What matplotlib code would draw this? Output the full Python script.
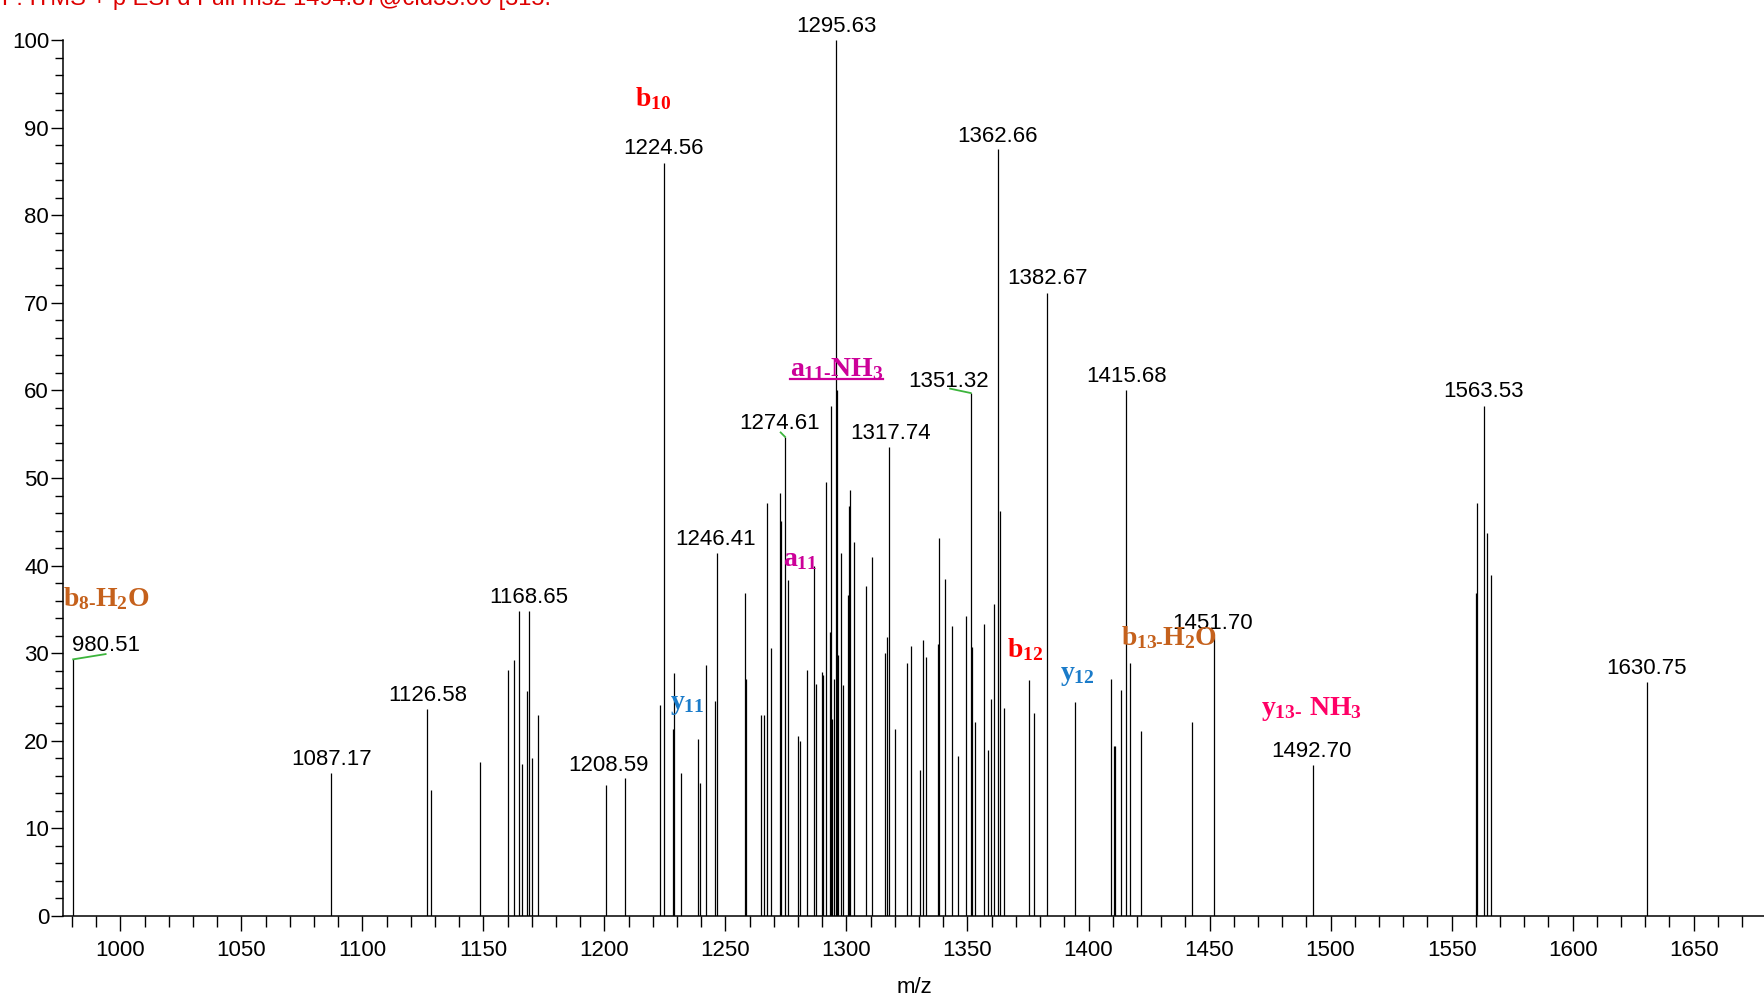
import matplotlib
matplotlib.use('Agg')
import matplotlib.pyplot as plt
from matplotlib import font_manager as fm
from matplotlib.ticker import MultipleLocator


def pick(fams):
    for f in fams:
        try:
            fm.findfont(fm.FontProperties(family=f), fallback_to_default=False)
            return f
        except Exception:
            pass
    return 'DejaVu Sans'


SANS = pick(['Liberation Sans Narrow', 'Arial Narrow', 'Liberation Sans', 'Arial'])
NARROW = 'Narrow' in SANS
FS = 19 if NARROW else 16
TFS = 18 if NARROW else 16

plt.rcParams['font.family'] = [SANS, 'DejaVu Sans']
plt.rcParams['mathtext.fontset'] = 'custom'
plt.rcParams['mathtext.rm'] = 'Liberation Serif:bold'
plt.rcParams['mathtext.it'] = 'Liberation Serif:bold'
plt.rcParams['mathtext.bf'] = 'Liberation Serif:bold'

# ---------------- data ----------------
mz = [980.51, 1087.17, 1126.58, 1128.4, 1148.6, 1160.3, 1162.5, 1164.7, 1165.8,
      1168.2, 1168.65, 1169.9, 1172.6, 1200.5, 1208.59, 1222.9, 1224.56, 1228.4,
      1228.9, 1231.7, 1238.6, 1239.5, 1242.1, 1245.8, 1246.41, 1258.1, 1258.5,
      1264.7, 1265.8, 1267.1, 1268.8, 1272.4, 1273.1, 1274.61, 1275.9, 1279.9,
      1280.8, 1283.6, 1286.5, 1287.6, 1289.8, 1290.4, 1291.4, 1293.1, 1293.6,
      1294.2, 1294.7, 1295.63, 1296.1, 1296.7, 1297.8, 1298.7, 1300.5, 1300.9,
      1301.5, 1303.3, 1308.2, 1310.4, 1316.1, 1316.6, 1317.74, 1319.9, 1324.9,
      1326.7, 1330.4, 1331.6, 1332.9, 1337.7, 1338.4, 1340.6, 1343.5, 1346.1,
      1349.5, 1351.32, 1351.9, 1353.0, 1356.8, 1358.5, 1359.7, 1360.8, 1362.66,
      1363.4, 1365.2, 1375.3, 1377.5, 1382.67, 1394.3, 1409.3, 1410.4, 1410.9,
      1413.3, 1415.68, 1417.0, 1421.5, 1442.7, 1451.70, 1492.70, 1559.9, 1560.6,
      1563.53, 1564.6, 1566.1, 1630.75]
intensity = [29.3, 16.3, 23.6, 14.4, 17.6, 28.1, 29.2, 34.8, 17.4,
             25.7, 34.8, 18.0, 23.0, 14.9, 15.7, 24.1, 86.0, 21.3,
             27.7, 16.3, 20.2, 15.2, 28.6, 24.6, 41.4, 36.9, 27.1,
             23.0, 22.9, 47.2, 30.6, 48.3, 45.1, 54.7, 38.3, 20.6,
             20.0, 28.1, 39.9, 26.5, 27.9, 27.5, 49.5, 32.4, 58.2,
             22.5, 27.1, 100.0, 60.1, 29.8, 41.4, 26.4, 36.6, 46.8,
             48.6, 42.7, 37.7, 41.0, 30.0, 31.8, 53.5, 21.3, 28.9,
             30.8, 16.7, 31.5, 29.6, 31.0, 43.2, 38.5, 33.1, 18.3,
             34.3, 59.7, 30.7, 22.1, 33.3, 19.0, 24.8, 35.6, 87.5,
             46.2, 23.8, 26.9, 23.2, 71.1, 24.4, 27.1, 19.4, 19.4,
             25.8, 60.1, 28.9, 21.1, 22.1, 31.9, 17.2, 36.9, 47.2,
             58.2, 43.7, 38.9, 26.7]

# peak m/z labels: (text, x, baseline y)
peak_text = ['980.51', '1087.17', '1126.58', '1168.65', '1208.59', '1224.56',
             '1246.41', '1274.61', '1295.63', '1317.74', '1351.32', '1362.66',
             '1382.67', '1415.68', '1451.70', '1492.70', '1563.53', '1630.75']
peak_text_x = [994.0, 1087.4, 1126.9, 1168.8, 1201.8, 1224.6,
               1246.0, 1272.2, 1295.7, 1318.2, 1342.2, 1362.6,
               1382.9, 1415.6, 1451.4, 1492.3, 1563.2, 1630.4]
peak_text_y = [30.2, 17.2, 24.5, 35.7, 16.5, 87.0,
               42.4, 55.6, 100.9, 54.5, 60.4, 88.4,
               72.1, 61.0, 32.8, 18.2, 59.2, 27.6]

# fragment ion labels
ion_text = [r'$b_{8‐}H_{2}O$', r'$b_{10}$', r'$y_{11}$', r'$a_{11}$',
            r'$a_{11‐}NH_{3}$', r'$b_{12}$', r'$y_{12}$', r'$b_{13‐}H_{2}O$',
            r'$y_{13‐}\ NH_{3}$']
ion_x = [994.0, 1219.9, 1234.2, 1280.7, 1296.0, 1373.6, 1395.2, 1433.4, 1492.3]
ion_y = [35.4, 92.4, 23.6, 40.0, 61.6, 29.5, 26.9, 30.9, 22.9]
ion_color = ['#C5611C', '#FF0000', '#1A7BC9', '#CC0099', '#CC0099',
             '#FF0000', '#1A7BC9', '#C5611C', '#FF0066']

title = 'F: ITMS + p ESI d Full ms2 1494.87@cid35.00 [315.'

# ---------------- figure ----------------
fig = plt.figure(figsize=(17.65, 9.97), dpi=100)
ax = fig.add_axes([63 / 1765, 1 - 916 / 997, 1 - 63 / 1765, (916 - 40) / 997])

ax.vlines(mz, 0, intensity, color='black', lw=0.9)
ax.set_xlim(976.3, 1679.5)
ax.set_ylim(0, 100)

for s in ['top', 'right']:
    ax.spines[s].set_visible(False)
for s in ['left', 'bottom']:
    ax.spines[s].set_linewidth(1.1)

ax.xaxis.set_major_locator(MultipleLocator(50))
ax.xaxis.set_minor_locator(MultipleLocator(10))
ax.yaxis.set_major_locator(MultipleLocator(10))
ax.yaxis.set_minor_locator(MultipleLocator(2))
ax.tick_params(axis='x', which='major', length=11, width=1.0, pad=6, labelsize=TFS)
ax.tick_params(axis='x', which='minor', length=8, width=1.0)
ax.tick_params(axis='y', which='major', length=9, width=1.0, pad=1, labelsize=TFS)
ax.tick_params(axis='y', which='minor', length=6, width=1.0)

ax.set_xlabel('m/z', fontsize=TFS, labelpad=12)

for t, x, y in zip(peak_text, peak_text_x, peak_text_y):
    ax.text(x, y, t, ha='center', va='baseline', fontsize=FS, color='black', clip_on=False)

ion_objs = []
for t, x, y, c in zip(ion_text, ion_x, ion_y, ion_color):
    ion_objs.append(ax.text(x, y, t, ha='center', va='baseline', fontsize=20, color=c, clip_on=False))

# green leader lines (relative to labelled peaks)
leaders = [(980.51, 29.3, 13.4, 0.6), (1274.61, 54.7, -1.8, 0.5), (1351.32, 59.7, -8.5, 0.5)]
for px, py, dx, dy in leaders:
    ax.plot([px, px + dx], [py, py + dy], color='#3CB43C', lw=1.3, clip_on=False)

# underline a11-NH3
fig.canvas.draw()
r = fig.canvas.get_renderer()
bb = ion_objs[4].get_window_extent(renderer=r)
inv = ax.transData.inverted()
(x0, _), (x1, _) = inv.transform([(bb.x0, 0), (bb.x1, 0)])
ax.plot([x0, x1], [61.25, 61.25], color='#CC0099', lw=1.6, clip_on=False)

fig.text(2 / 1765, 1 - 4.5 / 997, title, color='#DD0000', fontsize=17, va='baseline', ha='left')

fig.savefig('out.png', dpi=100)
